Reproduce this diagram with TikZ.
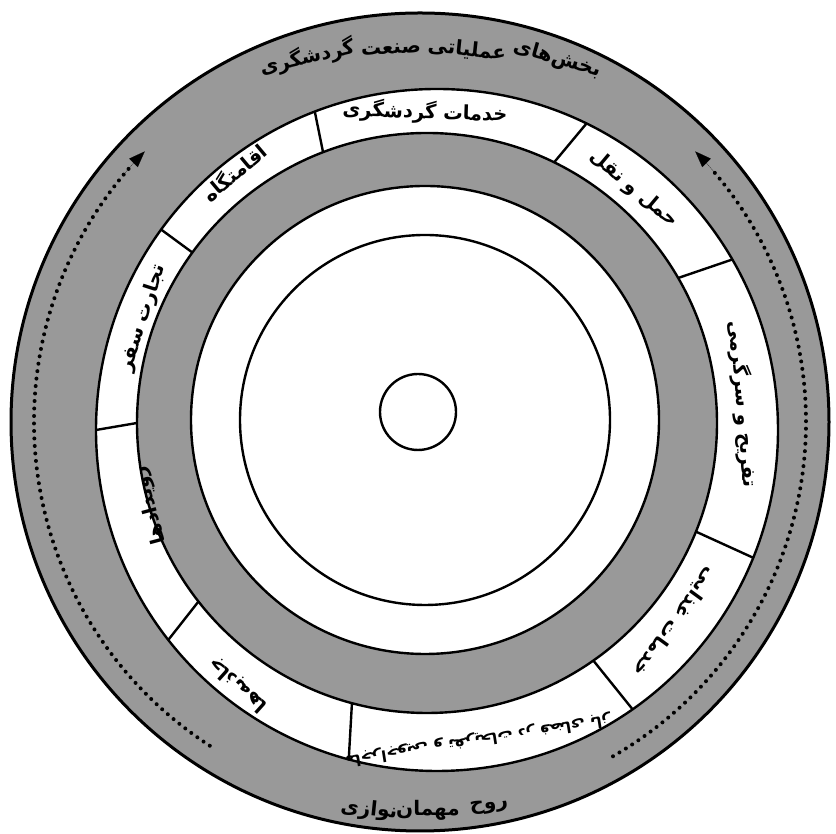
\documentclass[tikz,border=0pt]{standalone}
\usepackage{fontspec}
\newfontfamily\fa[Script=Arabic]{DejaVu Sans}
\TeXXeTstate=1
\usetikzlibrary{arrows.meta,calc}
\begin{document}
\begin{tikzpicture}[x=1pt,y=1pt,
  ringline/.style={line width=2.4pt},
  greyfill/.style={fill=black!40},
  lab/.style={font=\fa\bfseries\fontsize{19.5}{24}\selectfont, inner sep=0pt},
  smalllab/.style={font=\fa\bfseries\fontsize{15.5}{19}\selectfont, inner sep=0pt},
  biglab/.style={font=\fa\bfseries\fontsize{20}{24}\selectfont, inner sep=0pt},
  dotline/.style={line width=4pt, line cap=round, dash pattern=on 0pt off 7.5pt},
  tipline/.style={line width=0.1pt, -{Triangle[length=16pt,width=12pt]}}]
\useasboundingbox[fill=white] (0,0) rectangle (836,834);
\coordinate (O) at (420,412);
\coordinate (So) at (437,404);
\coordinate (Si) at (427,411);
\coordinate (Gi) at (425,414);
\coordinate (C) at (418,422);
% rings
\fill[greyfill] (O) circle[radius=409];
\fill[white] (So) circle[radius=341];
\fill[greyfill] (Si) circle[radius=290];
\fill[white] (Gi) circle[radius=234];
\draw[line width=3pt] (O) circle[radius=409];
\draw[ringline] (So) circle[radius=341];
\draw[ringline] (Si) circle[radius=290];
\draw[ringline] (Gi) circle[radius=234];
\draw[ringline] (Gi) circle[radius=185];
\draw[ringline] (C) circle[radius=38];
% dividers
\foreach \a in {111,64,30,-22,-55,-105,-142,180,144}
  \draw[ringline] ($(Si)+(\a:290)$) -- ($(So)+(\a:341)$);
% dotted arrows
\draw[dotline] ($(O)+(-60:386)$) arc[start angle=-60,end angle=41,radius=386];
\draw[tipline] ($(O)+(40:386)$) arc[start angle=40,end angle=44.5,radius=386];
\draw[dotline] ($(O)+(237:386)$) arc[start angle=237,end angle=139,radius=386];
\draw[tipline] ($(O)+(140:386)$) arc[start angle=140,end angle=135.5,radius=386];
% outer ring texts
\node[biglab, rotate=-16] (t1) at (557,775) {\beginR بخش‌های\endR};
\node[biglab, rotate=-6] (t2) at (467,784) {\beginR عملیاتی\endR};
\node[biglab, rotate=3] (t3) at (391,785) {\beginR صنعت\endR};
\node[biglab, rotate=13] (t4) at (307,777) {\beginR گردشگری\endR};
\node[biglab, rotate=6] (b1) at (489,27) {\beginR روح\endR};
\node[biglab, rotate=0] (b2) at (428,24) {\beginR مهمان\endR};
\node[biglab, rotate=-6] (b3) at (369,24) {\beginR نوازی\endR};
% segment labels
\node[lab, rotate=-2] (s1) at (425,722) {\beginR خدمات گردشگری\endR};
\node[lab, rotate=-40] (s2) at (634,645) {\beginR حمل و نقل\endR};
\node[lab, rotate=-85] (s3) at (743,430) {\beginR تفریح و سرگرمی\endR};
\node[lab, rotate=-126] (s4) at (675,212) {\beginR خدمات غذایی\endR};
\node[smalllab, rotate=-171] (s5) at (478,94) {\beginR ماجراجویی و تفریحات در فضای باز\endR};
\node[lab, rotate=138] (s6) at (238,149) {\beginR جاذبه‌ها\endR};
\node[lab, rotate=105] (s7) at (150,329) {\beginR رویدادها\endR};
\node[lab, rotate=72] (s8) at (143,516) {\beginR تجارت سفر\endR};
\node[lab, rotate=40] (s9) at (234,662) {\beginR اقامتگاه\endR};
\end{tikzpicture}
\end{document}
